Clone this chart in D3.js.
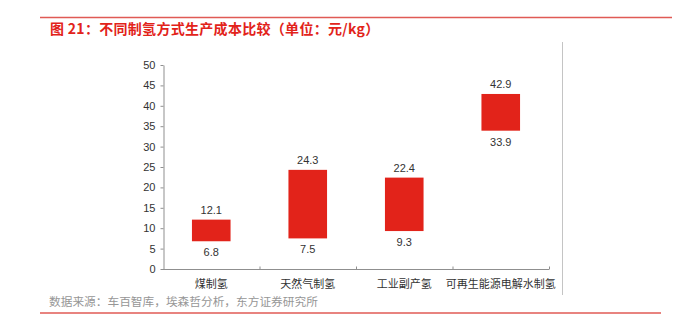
<!DOCTYPE html>
<html>
<head>
<meta charset="utf-8">
<script src="https://cdn.jsdelivr.net/npm/d3@7/dist/d3.min.js"></script>
<style>
  html, body { margin: 0; padding: 0; background: #fff; }
  svg { display: block; }
  text { font-family: "Liberation Sans", Arial, "Noto Sans CJK SC", sans-serif; }
</style>
</head>
<body>
<svg id="chart" width="682" height="324"></svg>
<script>
// Production cost ranges by hydrogen production route (元/kg)
const categories = ["煤制氢", "天然气制氢", "工业副产氢", "可再生能源电解水制氢"];
const lowCost = [6.8, 7.5, 9.3, 33.9];
const highCost = [12.1, 24.3, 22.4, 42.9];
const yTicks = [0, 5, 10, 15, 20, 25, 30, 35, 40, 45, 50];

const titleText = "图 21：不同制氢方式生产成本比较（单位：元/kg）";
const sourceText = "数据来源：车百智库，埃森哲分析，东方证券研究所";

const svg = d3.select("#chart");
const cjk = '"Noto Sans CJK SC", "Liberation Sans", sans-serif';
const red = "#e2231a";

// Header and footer rules
svg.append("line").attr("x1", 40).attr("x2", 672).attr("y1", 17.5).attr("y2", 17.5)
  .attr("stroke", "#e05a55").attr("stroke-width", 1.5);
svg.append("line").attr("x1", 40).attr("x2", 661).attr("y1", 313).attr("y2", 313)
  .attr("stroke", "#e05a55").attr("stroke-width", 1.5);

svg.append("text").attr("x", 50).attr("y", 33.5)
  .style("font-family", cjk).style("font-size", "14px").style("font-weight", "bold")
  .style("letter-spacing", "0.3px")
  .attr("fill", red)
  .text(titleText);

svg.append("text").attr("x", 49).attr("y", 306)
  .style("font-family", cjk).style("font-size", "11.7px").attr("fill", "#969696")
  .text(sourceText);

// Chart frame edge on the right
svg.append("line").attr("x1", 562.5).attr("x2", 562.5).attr("y1", 42).attr("y2", 295)
  .attr("stroke", "#c4c4c4").attr("stroke-width", 1);

const plot = { left: 163, right: 549, top: 65, bottom: 269 };

const x = d3.scaleBand().domain(categories).range([plot.left, plot.right]).paddingInner(0.6).paddingOuter(0.3);
const xEdge = d3.scaleBand().domain(categories).range([plot.left, plot.right]).padding(0);
const y = d3.scaleLinear().domain([0, 50]).range([plot.bottom, plot.top]);

// Y axis
const yAxis = svg.append("g").attr("transform", `translate(${plot.left + 0.5},0)`)
  .call(d3.axisLeft(y).tickValues(yTicks).tickSize(3).tickPadding(5).tickSizeOuter(0));
yAxis.select(".domain").attr("stroke", "#8f8f8f");
yAxis.selectAll(".tick line").attr("stroke", "#8f8f8f");
yAxis.selectAll(".tick text").attr("fill", "#333").style("font-size", "11px")
  .style("font-family", '"Liberation Sans", Arial, sans-serif');

// X axis: boundary tick marks between categories pointing up
const xg = svg.append("g").attr("transform", `translate(0,${plot.bottom + 0.5})`);
xg.append("line").attr("x1", plot.left).attr("x2", plot.right).attr("stroke", "#8f8f8f");
xg.selectAll("line.tk").data(categories).join("line").attr("class", "tk")
  .attr("x1", d => xEdge(d) + xEdge.bandwidth() + 0.5)
  .attr("x2", d => xEdge(d) + xEdge.bandwidth() + 0.5)
  .attr("y1", 0).attr("y2", -3).attr("stroke", "#8f8f8f");
xg.selectAll("text").data(categories).join("text")
  .attr("x", d => xEdge(d) + xEdge.bandwidth() / 2)
  .attr("y", 18).attr("text-anchor", "middle")
  .style("font-family", cjk).style("font-size", "11px").attr("fill", "#333")
  .text(d => d);

// Floating range bars
const rows = categories.map((c, i) => ({ c, lo: lowCost[i], hi: highCost[i] }));
svg.append("g").selectAll("rect").data(rows).join("rect")
  .attr("x", d => x(d.c))
  .attr("width", x.bandwidth())
  .attr("y", d => y(d.hi))
  .attr("height", d => y(d.lo) - y(d.hi))
  .attr("fill", red);

// Value labels
const lbl = svg.append("g").style("font-size", "11px").attr("fill", "#333").attr("text-anchor", "middle");
lbl.selectAll("text.hi").data(rows).join("text").attr("class", "hi")
  .attr("x", d => x(d.c) + x.bandwidth() / 2)
  .attr("y", d => y(d.hi) - 6)
  .text(d => d.hi.toFixed(1));
lbl.selectAll("text.lo").data(rows).join("text").attr("class", "lo")
  .attr("x", d => x(d.c) + x.bandwidth() / 2)
  .attr("y", d => y(d.lo) + 15)
  .text(d => d.lo.toFixed(1));
</script>
</body>
</html>
